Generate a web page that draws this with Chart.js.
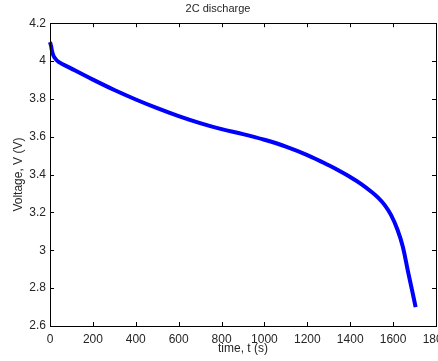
<!DOCTYPE html>
<html>
<head>
<meta charset="utf-8">
<title>2C discharge</title>
<script src="https://cdn.jsdelivr.net/npm/chart.js@4"></script>
<style>
    html, body { margin: 0; padding: 0; background: #fff; }
    #wrap { width: 438px; height: 361px; }
</style>
</head>
<body>
<div id="wrap"><canvas id="dischargeChart" width="438" height="361"></canvas></div>
<script>
// time (s) and voltage (V)
const timeSec = [0, 5, 10, 20, 40, 100, 200, 300, 400, 500, 600, 700, 800, 900, 1000, 1100, 1200, 1300, 1350, 1400, 1450, 1500, 1530, 1560, 1590, 1620, 1645, 1670, 1690, 1705];
const voltage = [4.10, 4.08, 4.05, 4.02, 3.996, 3.96, 3.902, 3.847, 3.797, 3.751, 3.709, 3.672, 3.64, 3.614, 3.584, 3.548, 3.503, 3.449, 3.419, 3.387, 3.351, 3.308, 3.278, 3.24, 3.187, 3.11, 3.02, 2.885, 2.78, 2.70];

const xTicks = [0, 200, 400, 600, 800, 1000, 1200, 1400, 1600, 1800];
const yTicks = [2.6, 2.8, 3.0, 3.2, 3.4, 3.6, 3.8, 4.0, 4.2];

const FONT = '"Liberation Sans", Arial, sans-serif';
const TEXT = '#262626';

// matlab style box with inward ticks on all four sides
const boxTicks = {
    id: 'boxTicks',
    afterDraw(chart) {
        const { ctx, chartArea: a, scales } = chart;
        const len = 4;
        ctx.save();
        ctx.strokeStyle = '#000';
        ctx.lineWidth = 1;
        ctx.beginPath();
        xTicks.forEach(v => {
            const px = Math.round(scales.x.getPixelForValue(v)) + 0.5;
            ctx.moveTo(px, a.bottom); ctx.lineTo(px, a.bottom - len);
            ctx.moveTo(px, a.top); ctx.lineTo(px, a.top + len);
        });
        yTicks.forEach(v => {
            const py = Math.round(scales.y.getPixelForValue(v)) + 0.5;
            ctx.moveTo(a.left, py); ctx.lineTo(a.left + len, py);
            ctx.moveTo(a.right, py); ctx.lineTo(a.right - len, py);
        });
        ctx.stroke();
        ctx.strokeRect(Math.round(a.left) + 0.5, Math.round(a.top) + 0.5,
            Math.round(a.right - a.left), Math.round(a.bottom - a.top));
        ctx.restore();
    }
};

const points = timeSec.map((t, i) => ({ x: t, y: voltage[i] }));

new Chart(document.getElementById('dischargeChart'), {
    type: 'line',
    data: {
        datasets: [{
            data: points,
            borderColor: '#0000ff',
            borderWidth: 4,
            pointRadius: 0,
            tension: 0.4,
            clip: false
        }]
    },
    options: {
        responsive: false,
        animation: false,
        layout: { padding: { top: 0, left: 0, right: 2, bottom: 0 } },
        plugins: {
            legend: { display: false },
            tooltip: { enabled: false },
            title: {
                display: true,
                text: '2C discharge',
                color: TEXT,
                font: { family: FONT, size: 11, weight: 'normal' },
                padding: { top: 2, bottom: 8 }
            }
        },
        scales: {
            x: {
                type: 'linear',
                min: 0,
                max: 1800,
                afterBuildTicks: s => { s.ticks = xTicks.map(v => ({ value: v })); },
                afterFit: s => { s.height = 35; s.paddingRight = 0; },
                grid: { display: false, drawTicks: false },
                border: { display: false },
                ticks: {
                    color: TEXT,
                    padding: 6,
                    maxRotation: 0,
                    font: { family: FONT, size: 12 },
                    callback: v => String(v)
                },
                title: {
                    display: true,
                    text: 'time, t (s)',
                    color: TEXT,
                    font: { family: FONT, size: 12 },
                    padding: { top: 0, bottom: 5 }
                }
            },
            y: {
                min: 2.6,
                max: 4.2,
                afterBuildTicks: s => { s.ticks = yTicks.map(v => ({ value: v })); },
                afterFit: s => { s.width = 50; },
                grid: { display: false, drawTicks: false },
                border: { display: false },
                ticks: {
                    color: TEXT,
                    padding: 4,
                    font: { family: FONT, size: 12 },
                    callback: v => String(Number(v.toFixed(1)))
                },
                title: {
                    display: true,
                    text: 'Voltage, V (V)',
                    color: TEXT,
                    font: { family: FONT, size: 12 },
                    padding: { top: 11, bottom: 0 }
                }
            }
        }
    },
    plugins: [boxTicks]
});
</script>
</body>
</html>
